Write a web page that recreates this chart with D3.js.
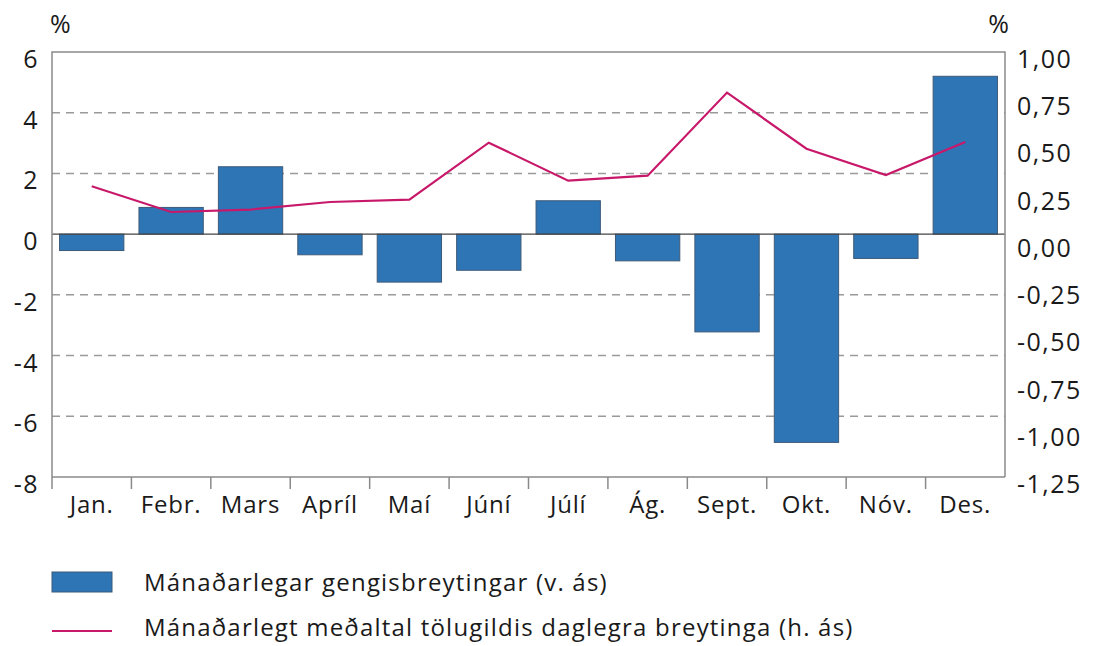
<!DOCTYPE html>
<html>
<head>
<meta charset="utf-8">
<script src="https://cdn.jsdelivr.net/npm/d3@7"></script>
<style>
  body { margin: 0; background: #fff; }
  text { font-family: "Open Sans", "Noto Sans", sans-serif; fill: #1a1a1a; }
</style>
</head>
<body>
<div id="chart"></div>
<script>
const months = ['Jan.', 'Febr.', 'Mars', 'Apríl', 'Maí', 'Júní', 'Júlí', 'Ág.', 'Sept.', 'Okt.', 'Nóv.', 'Des.'];
const monthlyChange = [-0.54, 0.88, 2.22, -0.68, -1.58, -1.19, 1.1, -0.88, -3.22, -6.86, -0.8, 5.2];
const dailyAbsMean = [0.289, 0.153, 0.166, 0.206, 0.218, 0.52, 0.319, 0.345, 0.785, 0.488, 0.349, 0.524];
const leftTicks = [-8, -6, -4, -2, 0, 2, 4, 6];
const rightTicks = [-1.25, -1, -0.75, -0.5, -0.25, 0, 0.25, 0.5, 0.75, 1];
const legendLabels = [
  'Mánaðarlegar gengisbreytingar (v. ás)',
  'Mánaðarlegt meðaltal tölugildis daglegra breytinga (h. ás)'
];

const width = 1106, height = 646;
const margin = { top: 52, right: 101, bottom: 169, left: 52 };
const innerW = width - margin.left - margin.right;
const innerH = height - margin.top - margin.bottom;

const barColor = '#2e75b6', lineColor = '#c8186a';

const svg = d3.select('#chart').append('svg')
  .attr('width', width)
  .attr('height', height);

const g = svg.append('g')
  .attr('transform', `translate(${margin.left},${margin.top})`);

const x = d3.scaleBand().domain(months).range([0, innerW]).paddingInner(0.19).paddingOuter(0.095);
const yL = d3.scaleLinear().domain([-8, 6]).range([innerH, 0]);
const yR = d3.scaleLinear().domain([-1.25, 1]).range([innerH, 0]);

// gridlines
g.selectAll('line.grid')
  .data(leftTicks.filter(t => t !== 0 && t !== 6 && t !== -8))
  .enter().append('line')
  .attr('class', 'grid')
  .attr('x1', 0).attr('x2', innerW)
  .attr('y1', d => yL(d)).attr('y2', d => yL(d))
  .attr('stroke', '#9a9a9a')
  .attr('stroke-width', 1.5)
  .attr('stroke-dasharray', '8,6');

// bars
g.selectAll('rect.bar')
  .data(monthlyChange)
  .enter().append('rect')
  .attr('class', 'bar')
  .attr('x', (d, i) => x(months[i]))
  .attr('width', x.bandwidth())
  .attr('y', d => yL(Math.max(0, d)))
  .attr('height', d => Math.abs(yL(d) - yL(0)))
  .attr('fill', barColor)
  .attr('stroke', '#3d5a78')
  .attr('stroke-width', 1);

// zero line
g.append('line')
  .attr('x1', 0).attr('x2', innerW)
  .attr('y1', yL(0)).attr('y2', yL(0))
  .attr('stroke', '#444')
  .attr('stroke-width', 1.2);

// line series
const line = d3.line()
  .x((d, i) => x(months[i]) + x.bandwidth() / 2)
  .y(d => yR(d));

g.append('path')
  .datum(dailyAbsMean)
  .attr('d', line)
  .attr('fill', 'none')
  .attr('stroke', lineColor)
  .attr('stroke-width', 2.2);

// frame
g.append('path')
  .attr('d', `M0,${innerH + 12}V0H${innerW}V${innerH}`)
  .attr('fill', 'none')
  .attr('stroke', '#8a8a8a')
  .attr('stroke-width', 1.5);

g.append('line')
  .attr('x1', 0).attr('x2', innerW)
  .attr('y1', innerH).attr('y2', innerH)
  .attr('stroke', '#8a8a8a')
  .attr('stroke-width', 1.5);

// category separators on x axis
g.selectAll('line.xtick')
  .data(months.slice(1))
  .enter().append('line')
  .attr('class', 'xtick')
  .attr('x1', d => x(d) - x.step() * x.paddingInner() / 2)
  .attr('x2', d => x(d) - x.step() * x.paddingInner() / 2)
  .attr('y1', innerH).attr('y2', innerH + 12)
  .attr('stroke', '#8a8a8a')
  .attr('stroke-width', 1.5);

// x labels
g.selectAll('text.xlab')
  .data(months)
  .enter().append('text')
  .attr('class', 'xlab')
  .attr('x', d => x(d) + x.bandwidth() / 2)
  .attr('y', innerH + 36)
  .attr('text-anchor', 'middle')
  .attr('font-size', 24)
  .attr('letter-spacing', 0.8)
  .text(d => d);

// left labels
g.selectAll('text.ylab')
  .data(leftTicks)
  .enter().append('text')
  .attr('class', 'ylab')
  .attr('x', -13)
  .attr('y', d => yL(d) + 7)
  .attr('dy', '0.36em')
  .attr('text-anchor', 'end')
  .attr('font-size', 25)
  .attr('letter-spacing', 1.5)
  .text(d => d);

// right labels
const fmtR = d => d3.format('.2f')(d).replace('.', ',').replace('−', '-');
g.selectAll('text.rlab')
  .data(rightTicks)
  .enter().append('text')
  .attr('class', 'rlab')
  .attr('x', innerW + 12)
  .attr('y', d => yR(d) + 7)
  .attr('dy', '0.36em')
  .attr('text-anchor', 'start')
  .attr('font-size', 25)
  .attr('letter-spacing', 1.5)
  .text(fmtR);

// unit labels
svg.append('text').attr('x', 50).attr('y', 33).attr('font-size', 25).text('%');
svg.append('text').attr('x', 1009).attr('y', 33).attr('text-anchor', 'end').attr('font-size', 25).text('%');

// legend
const legend = svg.append('g').attr('transform', 'translate(52,572)');
legend.append('rect')
  .attr('width', 60).attr('height', 20)
  .attr('fill', barColor)
  .attr('stroke', '#3d5a78').attr('stroke-width', 1);
legend.append('line')
  .attr('x1', 0).attr('x2', 60)
  .attr('y1', 59).attr('y2', 59)
  .attr('stroke', lineColor).attr('stroke-width', 2.2);
legend.selectAll('text.leg')
  .data(legendLabels)
  .enter().append('text')
  .attr('class', 'leg')
  .attr('x', 92)
  .attr('y', (d, i) => 19 + i * 45)
  .attr('font-size', 24)
  .attr('letter-spacing', 1.2)
  .text(d => d);
</script>
</body>
</html>
